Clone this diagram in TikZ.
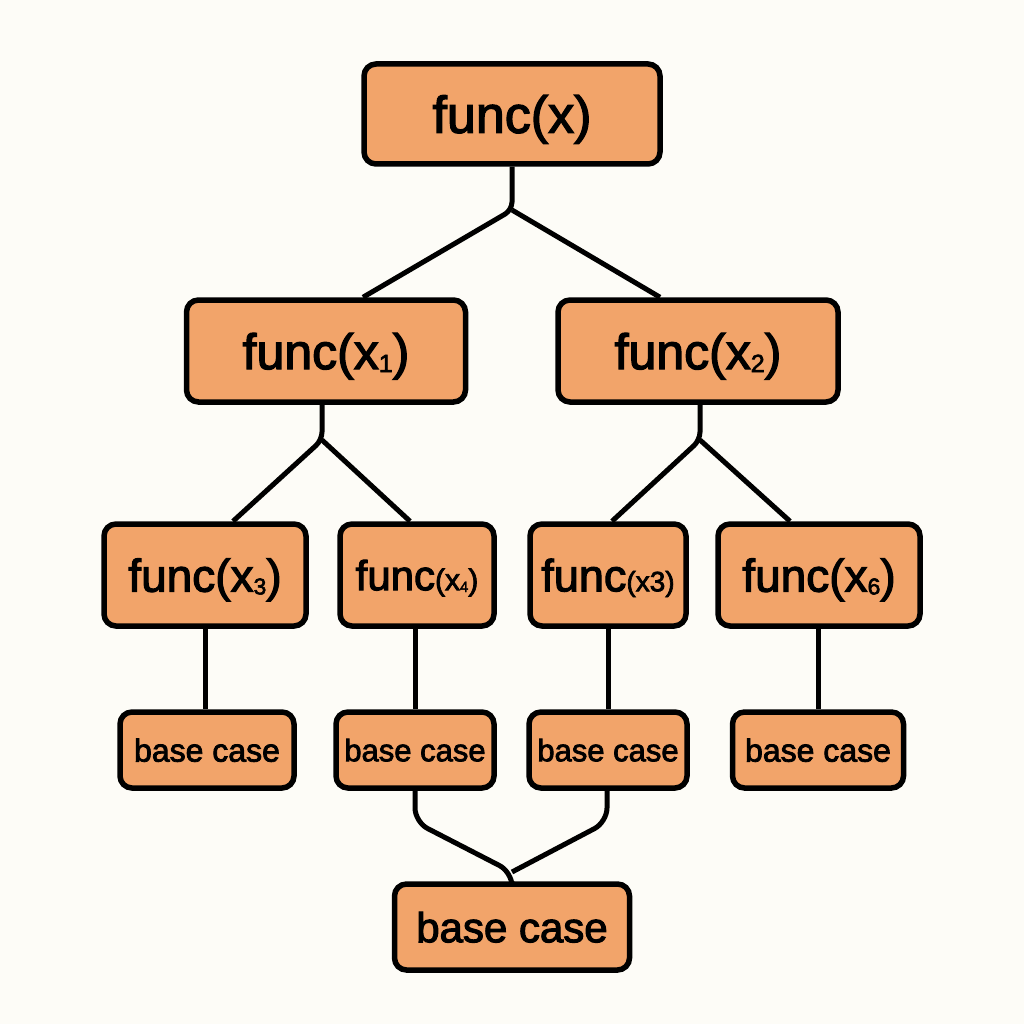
\documentclass[tikz,border=0pt]{standalone}
\usepackage{fontspec}
\setmainfont{Liberation Sans}[FakeBold=2.5]
\usetikzlibrary{calc}
\definecolor{bg}{HTML}{FDFCF7}
\definecolor{boxor}{HTML}{F2A46A}
\newcommand\subd[1]{\raisebox{-0.06em}{\scalebox{0.5}{#1}}}
\begin{document}
\begin{tikzpicture}[x=1pt,y=-1pt,
  box/.style={draw=black, fill=boxor, line width=5.5pt, rounded corners=12pt, inner sep=0pt, align=center, text depth=0pt},
  conn/.style={draw=black, line width=5pt, rounded corners=8pt}]
\fill[bg] (0,0) rectangle (1024,1024);
\useasboundingbox (0,0) rectangle (1024,1024);
\node[box, minimum width=296pt, minimum height=100pt, font=\fontsize{52}{56}\selectfont] (root) at (512,114) {func(x)};
\node[box, minimum width=279pt, minimum height=102pt, font=\fontsize{50}{52}\selectfont] (x1) at (326,351) {func(x\subd{1})};
\node[box, minimum width=280pt, minimum height=102pt, font=\fontsize{50}{52}\selectfont] (x2) at (698,351) {func(x\subd{2})};
\node[box, minimum width=202pt, minimum height=102pt, font=\fontsize{46}{50}\selectfont] (x3) at (205,575) {func(x\subd{3})};
\node[box, minimum width=154pt, minimum height=102pt, font=\fontsize{42}{46}\selectfont] (x4) at (417,575) {func{\fontsize{30}{30}\selectfont(x\subd{4})}};
\node[box, minimum width=156pt, minimum height=102pt, font=\fontsize{45}{46}\selectfont] (x5) at (608,575) {func{\fontsize{28}{30}\selectfont(x3)}};
\node[box, minimum width=202pt, minimum height=102pt, font=\fontsize{46}{50}\selectfont] (x6) at (819,575) {func(x\subd{6})};
\node[box, minimum width=174pt, minimum height=76pt, font=\fontsize{32}{36}\selectfont] (b1) at (207,750) {base case};
\node[box, minimum width=158pt, minimum height=76pt, font=\fontsize{31}{36}\selectfont] (b2) at (415,750) {base case};
\node[box, minimum width=158pt, minimum height=76pt, font=\fontsize{31}{36}\selectfont] (b3) at (608,750) {base case};
\node[box, minimum width=171pt, minimum height=76pt, font=\fontsize{32}{36}\selectfont] (b4) at (818,750) {base case};
\node[box, minimum width=235pt, minimum height=86pt, font=\fontsize{42}{46}\selectfont] (bot) at (512,927) {base case};
% junction coordinates
\coordinate (j0) at (512,210);
\coordinate (j1) at (322,440);
\coordinate (j2) at (700,440);
\coordinate (m1) at (415,822);
\coordinate (m2) at (607,822);
\coordinate (jb) at (512,872);
\draw[conn] (root.south) -- (j0) -- ($(x1.north)+(37,0)$);
\draw[conn] (j0) -- ($(x2.north)+(-38,0)$);
\draw[conn] (x1.south -| j1) -- (j1) -- ($(x3.north)+(28,0)$);
\draw[conn] (j1) -- ($(x4.north)+(-7,0)$);
\draw[conn] (x2.south -| j2) -- (j2) -- ($(x5.north)+(4,0)$);
\draw[conn] (j2) -- ($(x6.north)+(-29,0)$);
\draw[conn] (x3.south) -- (b1.north -| x3.south);
\draw[conn] (x4.south -| b2.north) -- (b2.north);
\draw[conn] (x5.south) -- (b3.north);
\draw[conn] (x6.south -| b4.north) -- (b4.north);
\draw[conn, rounded corners=14pt] (b2.south) -- (m1) -- (jb) -- (bot.north);
\draw[conn, rounded corners=14pt] (b3.south -| m2) -- (m2) -- (jb);
\end{tikzpicture}
\end{document}
